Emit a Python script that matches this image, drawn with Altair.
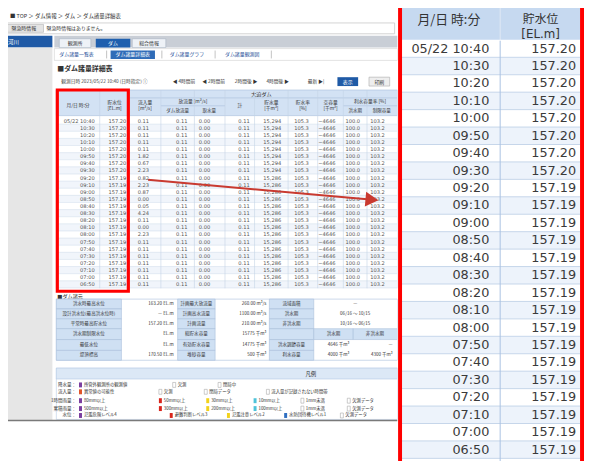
import altair as alt
import pandas as pd

# ---------------- data ----------------
times = ["05/22 10:40", "10:30", "10:20", "10:10", "10:00", "09:50", "09:40", "09:30",
         "09:20", "09:10", "09:00", "08:50", "08:40", "08:30", "08:20", "08:10",
         "08:00", "07:50", "07:40", "07:30", "07:20", "07:10", "07:00", "06:50"]
levels = [157.20, 157.20, 157.20, 157.20, 157.20, 157.20, 157.20, 157.20,
          157.19, 157.19, 157.19, 157.19, 157.19, 157.19, 157.19, 157.19,
          157.19, 157.19, 157.19, 157.19, 157.19, 157.19, 157.19, 157.19]
inflow = [0.11, 0.11, 0.11, 0.11, 0.11, 1.82, 0.67, 2.23, 0.82, 2.23, 0.87, 0.00,
          0.05, 4.24, 0.11, 0.00, 2.23, 0.11, 0.11, 0.11, 0.11, 0.11, 0.11, 0.11]
release = [0.11, 0.11, 0.11, 0.11, 0.11, 0.11, 0.11, 0.11, 0.11, 0.11, 0.11, 0.11,
           0.11, 0.11, 0.11, 0.11, 0.11, 0.11, 0.11, 0.11, 0.11, 0.11, 0.11, 0.11]
intake = [0.00, 0.00, 0.00, 0.00, 0.00, 0.00, 0.00, 0.00, 0.00, 0.00, 0.00, 0.00,
          0.00, 0.00, 0.00, 0.00, 0.00, 0.00, 0.00, 0.00, 0.00, 0.00, 0.00, 0.00]
total = [0.11, 0.11, 0.11, 0.11, 0.11, 0.11, 0.11, 0.11, 0.11, 0.11, 0.11, 0.11,
         0.11, 0.11, 0.11, 0.11, 0.11, 0.11, 0.11, 0.11, 0.11, 0.11, 0.11, 0.11]
storage = [15294, 15294, 15294, 15294, 15294, 15294, 15294, 15294,
           15286, 15286, 15286, 15286, 15286, 15286, 15286, 15286,
           15286, 15286, 15286, 15286, 15286, 15286, 15286, 15286]
rate = [105.3, 105.3, 105.3, 105.3, 105.3, 105.3, 105.3, 105.3, 105.3, 105.3, 105.3, 105.3,
        105.3, 105.3, 105.3, 105.3, 105.3, 105.3, 105.3, 105.3, 105.3, 105.3, 105.3, 105.3]
empty = [-4646, -4646, -4646, -4646, -4646, -4646, -4646, -4646, -4646, -4646, -4646, -4646,
         -4646, -4646, -4646, -4646, -4646, -4646, -4646, -4646, -4646, -4646, -4646, -4646]
cap_flood = [100.0, 100.0, 100.0, 100.0, 100.0, 100.0, 100.0, 100.0, 100.0, 100.0, 100.0, 100.0,
             100.0, 100.0, 100.0, 100.0, 100.0, 100.0, 100.0, 100.0, 100.0, 100.0, 100.0, 100.0]
cap_normal = [103.2, 103.2, 103.2, 103.2, 103.2, 103.2, 103.2, 103.2, 103.2, 103.2, 103.2, 103.2,
              103.2, 103.2, 103.2, 103.2, 103.2, 103.2, 103.2, 103.2, 103.2, 103.2, 103.2, 103.2]

df = pd.DataFrame({
    "i": list(range(len(times))), "t": times, "lv": levels, "inflow": inflow,
    "release": release, "intake": intake, "total": total, "storage": storage,
    "rate": rate, "empty": empty, "capf": cap_flood, "capn": cap_normal,
})
one = pd.DataFrame({"k": [0]})

# ---------------- layout ----------------
W, H = 584, 453
OFF = 8
ROW_R, TOP_R = 17.68, 38.0   # right zoomed table: row pitch / first row centre
ROW_L, TOP_L = 7.22, 111.0   # left thumbnail table
JP = "Noto Sans CJK JP"
NUM = "DejaVu Sans"

RS = alt.Scale(domain=[-TOP_R / ROW_R, (H - TOP_R) / ROW_R], reverse=True, nice=False, zero=False)
LS = alt.Scale(domain=[-TOP_L / ROW_L, (H - TOP_L) / ROW_L], reverse=True, nice=False, zero=False)

layers = []


def V(v):
    return alt.value(v - OFF)


def box(x1, y1, x2, y2, fill="#ffffff", stroke=None, sw=1, op=1):
    kw = dict(fill=fill, fillOpacity=op)
    if stroke is not None:
        kw.update(stroke=stroke, strokeWidth=sw)
    else:
        kw.update(strokeWidth=0)
    layers.append(alt.Chart(one).mark_rect(**kw).encode(x=V(x1), x2=V(x2), y=V(y1), y2=V(y2)))


def hline(x1, x2, y, color, w=1):
    layers.append(alt.Chart(one).mark_rule(color=color, strokeWidth=w).encode(x=V(x1), x2=V(x2), y=V(y)))


def vline(x, y1, y2, color, w=1):
    layers.append(alt.Chart(one).mark_rule(color=color, strokeWidth=w).encode(x=V(x), y=V(y1), y2=V(y2)))


def txt(x, y, s, size=5.5, color="#444444", align="left", font=JP, weight="normal"):
    layers.append(alt.Chart(one).mark_text(text=s, fontSize=size, color=color, align=align,
                                           baseline="middle", font=font, fontWeight=weight)
                  .encode(x=V(x), y=V(y)))


# ---------- left: thumbnail of the web page ----------
box(0, 0, 403, 423, "#ffffff")
txt(10, 13, "■ TOP ＞ ダム情報 ＞ ダム ＞ ダム諸量詳細表", 5.5, "#333333")
box(2, 20, 400, 31, "#ffffff", "#c8c8c8", 0.8)
box(4, 21.5, 44, 29.5, "#e4e4e4", "#b0b0b0", 0.6)
txt(24, 25.5, "緊急時情報", 5, "#333333", "center")
txt(47, 25.5, "緊急時情報はありません。", 5, "#333333")
# side bar and tab bar
box(2, 33, 53, 45, "#1f5aa6")
txt(8, 39, "河川", 5.5, "#ffffff")
box(2, 45, 53, 423, "#e6e6e6")
box(55, 33, 403, 45, "#c9ced6")
box(60, 36, 92, 45, "#eef2f7", "#a8b4c4", 0.6)
txt(76, 40.5, "観測所", 5, "#333333", "center")
box(97, 36, 132, 45, "#1f5fae")
txt(114.5, 40.5, "ダム", 5, "#ffffff", "center")
box(134, 36, 168, 45, "#eef2f7", "#a8b4c4", 0.6)
txt(151, 40.5, "総合情報", 5, "#333333", "center")
# sub tabs
box(55, 46, 403, 58, "#ffffff", "#d0d0d0", 0.6)
txt(60, 52, "ダム諸量一覧表", 5, "#1f4f99")
vline(108, 48, 56, "#999999", 0.6)
box(112, 48, 157, 56.5, "#2f6cb8")
txt(134.5, 52, "ダム諸量詳細表", 5, "#ffffff", "center")
vline(164, 48, 56, "#999999", 0.6)
txt(172, 52, "ダム諸量グラフ", 5, "#1f4f99")
vline(218, 48, 56, "#999999", 0.6)
txt(228, 52, "ダム諸量観測図", 5, "#1f4f99")
vline(275, 48, 56, "#999999", 0.6)
# title and time selector
txt(58, 67, "■ダム諸量詳細表", 7, "#333333", weight="bold")
txt(62, 79.5, "観測日時  2023/05/22 10:40  (日時指定)  ⓘ", 4.8, "#444444")
for bx, bl in [(175, "◀ 4時間前"), (205, "◀ 2時間前"), (238, "2時間後 ▶"), (270, "4時間後 ▶"), (312, "最新 ▶|")]:
    txt(bx, 79.5, bl, 4.8, "#333333")
box(342, 75, 363, 84, "#1f5aa6")
txt(352.5, 79.5, "表示", 5, "#ffffff", "center")
box(374, 75, 395, 84, "#eeeeee", "#aaaaaa", 0.6)
txt(384.5, 79.5, "印刷", 5, "#333333", "center")

# left table header
box(57, 88, 403, 114, "#d3e2f4", "#a9bfdc", 0.6)
hline(131, 403, 96, "#a9bfdc", 0.6)
hline(163, 228, 104, "#a9bfdc", 0.6)
hline(348, 403, 104, "#a9bfdc", 0.6)
txt(265, 92, "大迫ダム", 5.2, "#333333", "center")
for hx, h1, h2 in [(79, "月/日 時:分", ""), (116, "貯水位", "[EL.m]"), (147, "流入量", "[m³/s]"),
                   (275, "貯水量", "[千m³]"), (307, "貯水率", "[%]"), (335, "空容量", "[千m³]")]:
    if h2:
        txt(hx, 101, h1, 4.8, "#333333", "center")
        txt(hx, 107.5, h2, 4.8, "#333333", "center")
    else:
        txt(hx, 104, h1, 4.8, "#333333", "center")
txt(195.5, 100, "放流量 [m³/s]", 4.8, "#333333", "center")
txt(180, 109, "ダム放流量", 4.6, "#333333", "center")
txt(212, 109, "取水量", 4.6, "#333333", "center")
txt(243, 104, "計", 4.8, "#333333", "center")
txt(375, 100, "利水容量率 [%]", 4.8, "#333333", "center")
txt(360, 109, "洪水期", 4.6, "#333333", "center")
txt(387, 109, "制限容量", 4.6, "#333333", "center")

# left table rows (data-driven through scale LS)
baseL = alt.Chart(df).transform_calculate(y0="datum.i - 0.5", y1="datum.i + 0.5", odd="datum.i % 2")
layers.append(baseL.mark_rect(strokeWidth=0).encode(
    x=V(57), x2=V(403),
    y=alt.Y("y0:Q", scale=LS, axis=None), y2="y1:Q",
    color=alt.Color("odd:N", scale=alt.Scale(domain=[0, 1], range=["#ffffff", "#f1f5fb"]), legend=None)))
layers.append(baseL.mark_rule(color="#d3deec", strokeWidth=0.6).encode(
    x=V(57), x2=V(403), y=alt.Y("y1:Q", scale=LS, axis=None)))
for gx in [57, 101, 131, 163, 197, 228, 258, 292, 322, 348, 372, 403]:
    vline(gx, 88, 289, "#c3d2e6", 0.6)


def lcol(field, x, fmt=None, typ="Q"):
    t = alt.Text(f"{field}:{typ}", format=fmt) if fmt else alt.Text(f"{field}:{typ}")
    layers.append(alt.Chart(df).mark_text(align="right", baseline="middle", font=NUM, fontSize=5.2,
                                          color="#555555")
                  .encode(x=V(x), y=alt.Y("i:Q", scale=LS, axis=None), text=t))


lcol("t", 96, typ="N")
lcol("lv", 128, ".2f")
lcol("inflow", 151, ".2f")
lcol("release", 190, ".2f")
lcol("intake", 213, ".2f")
lcol("total", 253, ".2f")
lcol("storage", 285, ",")
lcol("rate", 313, ".1f")
lcol("empty", 340, "d")
lcol("capf", 365, ".1f")
lcol("capn", 390, ".1f")

# red frame on the left table
box(58, 88, 130, 292, "#ffffff", "#ff0000", 3.2, 0)

# dam specification block
txt(58, 297, "■ダム諸元", 5.2, "#333333")
rows_y = [300, 310, 320, 330, 341, 352, 362]
spec_l1 = ["洪水時最高水位", "設計洪水位(最高洪水位時)", "平常時最高貯水位", "洪水期制限水位", "最低水位", "堤頂標高"]
spec_v1 = ["163.20  EL.m", "—  EL.m", "157.20  EL.m", "  EL.m", "  EL.m", "170.50  EL.m"]
spec_l2 = ["計画最大放流量", "計画高水流量", "計画流量", "総貯水容量", "有効貯水容量", "堆砂容量"]
spec_v2 = ["260.00  m³/s", "1100.00  m³/s", "210.00  m³/s", "15775  千m³", "14775  千m³", "500  千m³"]
spec_l3 = ["流域面積", "洪水期", "非洪水期", "", "洪水調節容量", "利水容量"]
spec_v3 = ["—", "06/16 ～ 10/15", "10/16 ～ 06/15", "", "4646  千m³", "4000  千m³"]
spec_v4 = ["", "", "", "", "—", "4300  千m³"]
box(57, 300, 403, 362, "#ffffff", "#a9bfdc", 0.6)
for k in range(6):
    ya, yb = rows_y[k], rows_y[k + 1]
    ym = (ya + yb) / 2
    box(57, ya, 123, yb, "#cfe0f3", "#a9bfdc", 0.6)
    box(180, ya, 218, yb, "#cfe0f3", "#a9bfdc", 0.6)
    box(273, ya, 318, yb, "#cfe0f3", "#a9bfdc", 0.6)
    txt(90, ym, spec_l1[k], 4.6, "#333333", "center")
    txt(176, ym, spec_v1[k], 4.6, "#333333", "right")
    txt(199, ym, spec_l2[k], 4.6, "#333333", "center")
    txt(270, ym, spec_v2[k], 4.6, "#333333", "right")
    txt(295.5, ym, spec_l3[k], 4.6, "#333333", "center")
    if k in (4, 5):
        txt(354, ym, spec_v3[k], 4.6, "#333333", "right")
        txt(398, ym, spec_v4[k], 4.6, "#333333", "right")
    else:
        txt(360, ym, spec_v3[k], 4.6, "#333333", "center")
box(318, 330, 358, 341, "#cfe0f3", "#a9bfdc", 0.6)
box(358, 330, 403, 341, "#cfe0f3", "#a9bfdc", 0.6)
txt(338, 335.5, "洪水期", 4.6, "#333333", "center")
txt(380, 335.5, "非洪水期", 4.6, "#333333", "center")

# legend block
box(57, 370, 403, 422, "#ffffff", "#b5c9e3", 0.6)
box(57, 370, 403, 381, "#dce8f6", "#b5c9e3", 0.6)
txt(315, 375.5, "凡例", 5.5, "#333333", "center")
leg_rows = [(387, "降水量："), (394, "流入量："), (403, "1時間雨量："), (411, "累積雨量："), (418, "水位：")]
for ly, lt in leg_rows:
    txt(77, ly, lt, 4.6, "#333333", "right")
legend_items = [
    (387, [(80, "#7b3fa0", "所管外観測所の観測値"), (175, "#ffffff", "欠測"), (221, "#ffffff", "閉局中")]),
    (394, [(80, "#e0552a", "異常値の可能性"), (161, "#ffffff", "欠測"), (207, "#ffffff", "閉局データ"),
           (270, "#ffffff", "流入量が記録されない時間帯")]),
    (403, [(80, "#7b3fa0", "80mm以上"), (161, "#d9261c", "50mm以上"), (209, "#f2d21b", "30mm以上"),
           (257, "#4fc3d9", "10mm以上"), (305, "#ffffff", "1mm未満"), (352, "#ffffff", "欠測データ")]),
    (411, [(80, "#7b3fa0", "500mm以上"), (161, "#d9261c", "300mm以上"), (209, "#f2d21b", "200mm以上"),
           (257, "#4fc3d9", "100mm以上"), (305, "#ffffff", "1mm未満"), (352, "#ffffff", "欠測データ")]),
    (418, [(80, "#7b3fa0", "氾濫危険レベル4"), (172, "#d9261c", "避難判断レベル3"), (230, "#f2d21b", "氾濫注意レベル2"),
           (288, "#2f6fc1", "水防団待機レベル1"), (345, "#ffffff", "欠測データ")]),
]
for ly, items in legend_items:
    for lx, lc, lt in items:
        box(lx, ly - 2.5, lx + 3, ly + 2.5, lc, "#999999" if lc == "#ffffff" else None, 0.5)
        txt(lx + 5, ly, lt, 4.4, "#333333")
hline(0, 403, 423, "#7a7a7a", 1.5)

# red arrow from the thumbnail to the zoomed table
layers.append(alt.Chart(one).mark_rule(color="#c93a30", strokeWidth=2).encode(
    x=V(150), y=V(179), x2=V(372), y2=V(198.8)))
layers.append(alt.Chart(one).mark_point(shape="triangle-right", filled=True, color="#c93a30",
                                        opacity=1, size=230, angle=5).encode(x=V(377), y=V(199.2)))

# ---------- right: zoomed table ----------
box(403, 0, 592, 470, "#ffffff")
box(407, 0, 588, 38, "#c6d9f0")
vline(507, 0, 38, "#dfe8f4", 1)
hline(407, 588, 38, "#a8c0e0", 1)
txt(455, 17, "月/日 時:分", 13, "#333333", "center")
txt(548, 16.5, "貯水位", 12, "#333333", "center")
txt(548, 31, "[EL.m]", 12, "#333333", "center", font=NUM)

baseR = alt.Chart(df).transform_calculate(y0="datum.i - 0.5", y1="datum.i + 0.5", odd="datum.i % 2")
layers.append(baseR.mark_rect(strokeWidth=0).encode(
    x=V(407), x2=V(588),
    y=alt.Y("y0:Q", scale=RS, axis=None), y2="y1:Q",
    color=alt.Color("odd:N", scale=alt.Scale(domain=[0, 1], range=["#ffffff", "#edf3fb"]), legend=None)))
layers.append(baseR.mark_rule(color="#c5d5ea", strokeWidth=1).encode(
    x=V(407), x2=V(588), y=alt.Y("y1:Q", scale=RS, axis=None)))
vline(507, 38, 470, "#a9c1e2", 1)
layers.append(alt.Chart(df).mark_text(align="right", baseline="middle", font=NUM, fontSize=13,
                                      color="#3a3a3a")
              .encode(x=V(496), y=alt.Y("i:Q", scale=RS, axis=None), text="t:N"))
layers.append(alt.Chart(df).mark_text(align="right", baseline="middle", font=NUM, fontSize=13,
                                      color="#3a3a3a")
              .encode(x=V(584), y=alt.Y("i:Q", scale=RS, axis=None),
                      text=alt.Text("lv:Q", format=".2f")))
box(403.5, 0, 407.5, 470, "#ff0000")
box(588, 0, 592, 470, "#ff0000")

chart = (alt.layer(*layers)
         .resolve_scale(x="independent", y="independent", color="independent")
         .properties(width=W, height=H, padding=0, autosize=alt.AutoSizeParams(type="none"),
                     background="#ffffff")
         .configure_view(stroke=None))

chart.save("out.html", embed_options={"renderer": "svg", "actions": False})
